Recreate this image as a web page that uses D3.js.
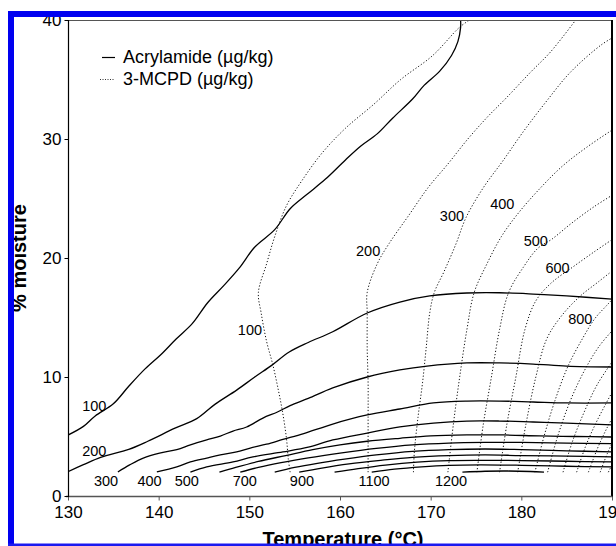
<!DOCTYPE html>
<html>
<head>
<meta charset="utf-8">
<script src="https://cdn.jsdelivr.net/npm/d3@7/dist/d3.min.js"></script>
<style>
  html, body { margin: 0; padding: 0; background: #fff; }
  svg { display: block; font-family: "Liberation Sans", Arial, sans-serif; }
</style>
</head>
<body>
<svg id="chart" width="616" height="546"></svg>
<script>
// ---------- DATA ----------
const xTicks = [130, 140, 150, 160, 170, 180, 190];
const yTicks = [0, 10, 20, 30, 40];
const xLabel = "Temperature (°C)";
const yLabel = "% moisture";
const legendLabels = ["Acrylamide (µg/kg)", "3-MCPD (µg/kg)"];

// Acrylamide contours (solid) : [temperature, moisture]
const acrylamideLevels = [100, 200, 300, 400, 500, 600, 700, 800, 900, 1000, 1100, 1200];
const acr100 = [[130,5.12],[131.7,5.85],[133,6.73],[135,7.75],[136.7,9.22],[138.5,10.68],[140.2,11.85],[141.9,13.17],[143.7,14.48],[145.4,16.24],[147.2,17.7],[148.9,19.17],[150.6,20.92],[152.8,22.38],[154.5,24.14],[156.3,25.31],[158.4,26.63],[160.6,28.24],[162.3,29.41],[164.1,30.43],[165.8,31.75],[168,33.36],[169.3,34.53],[171,35.7],[172.3,37.02],[173,38.18],[173.3,39.36],[173.3,40]];
const acr200 = [[130,2.05],[131.7,2.63],[133.6,3.25],[136.7,3.92],[138.8,4.6],[141.8,5.7],[144.2,6.5],[146.2,7.7],[148.6,8.9],[150.6,10.0],[152.5,11.0],[154.4,12.1],[156.5,12.9],[159.2,13.8],[163,15.38],[166.6,16.3],[169.9,16.81],[174,17.06],[177.6,17.08],[181.3,16.97],[185,16.81],[190,16.55]];
const acr300 = [[135.5,2.02],[136.8,2.61],[138.3,3.19],[140.1,3.61],[142,3.9],[143.5,4.29],[145.3,4.71],[146.8,5.04],[148.2,5.46],[149.7,5.8],[151.5,6.55],[153.1,7.06],[154.5,7.6],[156.5,8.2],[159.2,9.08],[163,10.0],[166.6,10.59],[169.6,10.92],[174,11.18],[177.6,11.18],[181.3,11.09],[185,10.92],[190,10.84]];
const acr400 = [[139.8,2.02],[142,2.44],[143.5,2.86],[145.3,3.19],[146.8,3.45],[148.6,3.7],[150.1,4.03],[151.9,4.35],[153.7,4.75],[156,5.25],[159.2,6.05],[163,6.81],[166.6,7.31],[170.3,7.82],[174,7.98],[177.6,7.98],[181.3,7.9],[185,7.82],[190,7.82]];
const acr500 = [[143.5,2.0],[145.3,2.44],[148.2,2.86],[150.4,3.28],[153.7,3.7],[156.5,4.1],[159.2,4.71],[163,5.29],[166.6,5.8],[170.3,6.13],[174,6.3],[177.6,6.3],[181.3,6.22],[185,6.13],[190,5.97]];
const acr600 = [[146.7,2.0],[148.5,2.4],[151,2.9],[154,3.4],[157,3.9],[160,4.3],[163,4.6],[166.6,4.85],[170,5.05],[174,5.13],[178,5.13],[182,5.05],[186,5.0],[190,4.96]];
const acr700 = [[149.0,2.0],[151,2.4],[153.5,2.8],[156.5,3.2],[160,3.6],[164,4.0],[168,4.3],[172,4.45],[176,4.5],[180,4.5],[185,4.45],[190,4.4]];
const acr800 = [[152.8,2.0],[155,2.4],[157.5,2.75],[160.5,3.1],[164,3.45],[168,3.75],[172,3.9],[176,3.95],[180,3.9],[185,3.8],[190,3.7]];
const acr900 = [[155.5,2.0],[158,2.35],[161,2.7],[164.5,3.0],[168,3.25],[172,3.4],[176,3.45],[180,3.4],[185,3.35],[190,3.28]];
const acr1000 = [[159.4,2.0],[162,2.3],[165,2.6],[168.5,2.85],[172,2.98],[176,3.0],[180,2.98],[185,2.92],[190,2.86]];
const acr1100 = [[163.5,2.0],[166,2.25],[169,2.45],[172,2.58],[175.5,2.62],[180,2.58],[185,2.5],[190,2.44]];
const acr1200 = [[173.5,2.0],[176,2.08],[178.5,2.1],[181,2.06],[182.5,2.0]];
const acrylamideLines = [acr100, acr200, acr300, acr400, acr500, acr600, acr700, acr800, acr900, acr1000, acr1100, acr1200];
// label text and [temperature, moisture] anchor (centre of label)
const acrLabelText = ["100", "200", "300", "400", "500", "700", "900", "1100", "1200"];
const acrLabelPos = [[132.9,7.56],[132.9,3.78],[134.2,1.26],[139.0,1.26],[143.1,1.26],[149.5,1.26],[155.8,1.26],[163.75,1.26],[172.25,1.26]];

// 3-MCPD contours (dotted)
const mcpdLevels = [100, 200, 300, 400, 500, 600, 700, 800, 900, 1000, 1100, 1200, 1300, 1400];
const mcpd100 = [[154.5,2.0],[154.3,3.1],[154.1,4.8],[153.7,6.9],[153.2,8.9],[152.6,11.0],[151.9,13.0],[151.3,15.4],[151.0,17.1],[151.9,19.5],[152.8,21.8],[154.1,24.4],[155.8,26.5],[158.0,28.8],[160.6,30.9],[163.7,32.9],[166.7,35.0],[170.2,37.0],[173.2,39.4],[174.3,40]];
const mcpd200 = [[163.1,2.0],[163.1,6.6],[163.1,9.5],[163.0,12.4],[163.0,15.4],[163.0,17.1],[164.1,19.5],[165.4,21.2],[167.6,23.6],[169.7,25.9],[171.9,27.9],[174.1,30.0],[176.2,31.8],[178.4,33.5],[181.0,35.6],[183.2,37.3],[186.0,40]];
const mcpd300 = [[168.1,2.0],[168.2,3.7],[168.6,6.6],[169.1,9.5],[169.5,12.4],[169.9,15.4],[170.4,17.1],[171.5,18.9],[172.8,21.2],[173.9,23.4],[175.8,25.9],[178.0,28.2],[180.2,30.6],[182.8,33.2],[185.4,35.6],[188.8,37.9],[190.5,38.7]];
const mcpd400 = [[171.9,2.0],[172.5,6],[173.2,10],[174.0,14],[174.8,17.1],[176.2,19.5],[177.8,21.8],[179.7,23.8],[182.0,25.8],[184.5,27.7],[187.2,29.3],[190.5,31.0]];
const mcpd500 = [[175.1,2.0],[175.8,6],[176.7,10],[177.6,14],[178.6,17.1],[180.2,19.2],[181.8,20.8],[183.4,21.6],[185.5,22.9],[188,24.3],[190.5,25.5]];
const mcpd600 = [[177.6,2.0],[178.4,6],[179.4,10],[180.4,14],[181.6,16.4],[183.3,17.9],[185.6,19.2],[188,20.5],[190.5,21.8]];
const mcpd700 = [[179.6,2.0],[180.5,6],[181.6,10],[182.8,13.2],[184.5,15.2],[186.5,16.8],[188.5,18.0],[190.5,19.2]];
const mcpd800 = [[181.5,2.0],[182.5,5],[183.7,8],[185.2,11],[186.8,13.3],[188.1,14.9],[189.4,16.0],[190.5,16.9]];
const mcpd900 = [[182.9,2.0],[184.0,5],[185.4,8],[187.0,10.6],[188.6,12.6],[190.5,14.3]];
const mcpd1000 = [[184.6,2.0],[185.6,4.5],[186.9,7],[188.4,9.4],[190.5,11.8]];
const mcpd1100 = [[186.1,2.0],[187.1,4.2],[188.4,6.4],[190.5,9.4]];
const mcpd1200 = [[187.4,2.0],[188.4,4],[189.5,5.8],[190.5,7.2]];
const mcpd1300 = [[188.7,2.0],[189.5,3.6],[190.5,5.2]];
const mcpd1400 = [[189.6,2.0],[190.5,3.4]];
const mcpdLines = [mcpd100, mcpd200, mcpd300, mcpd400, mcpd500, mcpd600, mcpd700, mcpd800, mcpd900, mcpd1000, mcpd1100, mcpd1200, mcpd1300, mcpd1400];
const mcpdLabelText = ["100", "200", "300", "400", "500", "600", "800"];
const mcpdLabelPos = [[150.07,13.95],[163.1,20.6],[172.35,23.5],[177.9,24.5],[181.6,21.4],[184.0,19.2],[186.5,14.9]];

// ---------- DRAW ----------
const svg = d3.select("#chart");
const x = d3.scaleLinear().domain([130, 190]).range([68, 612]);
const y = d3.scaleLinear().domain([0, 40]).range([496, 20]);

svg.append("rect").attr("width", 616).attr("height", 546).attr("fill", "#fff");

svg.append("clipPath").attr("id", "plotclip")
  .append("rect").attr("x", 68).attr("y", 20).attr("width", 544).attr("height", 476);

const line = d3.line().x(d => x(d[0])).y(d => y(d[1])).curve(d3.curveCatmullRom.alpha(0.5));

const plot = svg.append("g").attr("clip-path", "url(#plotclip)");

plot.selectAll("path.mcpd").data(mcpdLines).join("path")
  .attr("class", "mcpd")
  .attr("d", line)
  .attr("fill", "none")
  .attr("stroke", "#111")
  .attr("stroke-width", 1)
  .attr("stroke-dasharray", "1.2,2");

plot.selectAll("path.acr").data(acrylamideLines).join("path")
  .attr("class", "acr")
  .attr("d", line)
  .attr("fill", "none")
  .attr("stroke", "#000")
  .attr("stroke-width", 1.3);

// contour labels
const labelStyle = sel => sel.attr("font-size", 14.5).attr("fill", "#000")
  .attr("text-anchor", "middle").attr("dominant-baseline", "central");
svg.append("g").selectAll("text").data(acrLabelText).join("text")
  .attr("x", (d, i) => x(acrLabelPos[i][0]))
  .attr("y", (d, i) => y(acrLabelPos[i][1]))
  .text(d => d).call(labelStyle);
svg.append("g").selectAll("text").data(mcpdLabelText).join("text")
  .attr("x", (d, i) => x(mcpdLabelPos[i][0]))
  .attr("y", (d, i) => y(mcpdLabelPos[i][1]))
  .text(d => d).call(labelStyle);

// frame lines
svg.append("line").attr("x1", 66).attr("x2", 612).attr("y1", 20.5).attr("y2", 20.5)
  .attr("stroke", "#555").attr("stroke-width", 1.2);
svg.append("line").attr("x1", 612).attr("x2", 612).attr("y1", 20).attr("y2", 497)
  .attr("stroke", "#000").attr("stroke-width", 2);

// axes
const xAxis = d3.axisBottom(x).tickValues(xTicks).tickSize(4).tickPadding(5).tickFormat(d3.format("d"));
const gx = svg.append("g").attr("transform", "translate(0,496.5)").call(xAxis);
gx.select(".domain").attr("stroke", "#555").attr("stroke-width", 1.6).attr("d", "M66,0H612");
gx.selectAll(".tick line").attr("stroke", "#555");
gx.selectAll("text").attr("font-size", 17).attr("fill", "#000").attr("font-family", "Liberation Sans, Arial, sans-serif");

const yAxis = d3.axisLeft(y).tickValues(yTicks).tickSize(4).tickPadding(3).tickFormat(d3.format("d"));
const gy = svg.append("g").attr("transform", "translate(68.5,0)").call(yAxis);
gy.select(".domain").attr("stroke", "#000").attr("stroke-width", 1.2).attr("d", "M0,20V497");
gy.selectAll(".tick line").attr("stroke", "#000");
gy.selectAll("text").attr("font-size", 17).attr("fill", "#000").attr("font-family", "Liberation Sans, Arial, sans-serif");

// legend
const lg = svg.append("g").attr("font-size", 18);
lg.append("line").attr("x1", 102).attr("x2", 115).attr("y1", 57.5).attr("y2", 57.5).attr("stroke", "#000").attr("stroke-width", 1.2);
lg.append("line").attr("x1", 100).attr("x2", 115).attr("y1", 79.5).attr("y2", 79.5).attr("stroke", "#333").attr("stroke-width", 1).attr("stroke-dasharray", "1,1.5");
lg.append("text").attr("x", 123).attr("y", 57).attr("dominant-baseline", "central").text(legendLabels[0]);
lg.append("text").attr("x", 123).attr("y", 79).attr("dominant-baseline", "central").text(legendLabels[1]);

// axis titles
svg.append("text").attr("x", 343).attr("y", 546).attr("text-anchor", "middle")
  .attr("font-size", 20).attr("font-weight", "bold").text(xLabel);
svg.append("text").attr("transform", "translate(26,258) rotate(-90)").attr("text-anchor", "middle")
  .attr("font-size", 20).attr("font-weight", "bold").text(yLabel);

// blue page frame
svg.append("rect").attr("x", 8).attr("y", 11).attr("width", 6).attr("height", 535).attr("fill", "#0000f0");
svg.append("rect").attr("x", 8).attr("y", 11).attr("width", 608).attr("height", 6).attr("fill", "#0000f0");
svg.append("rect").attr("x", 8).attr("y", 543.5).attr("width", 608).attr("height", 2.5).attr("fill", "#1a1af0");
</script>
</body>
</html>
